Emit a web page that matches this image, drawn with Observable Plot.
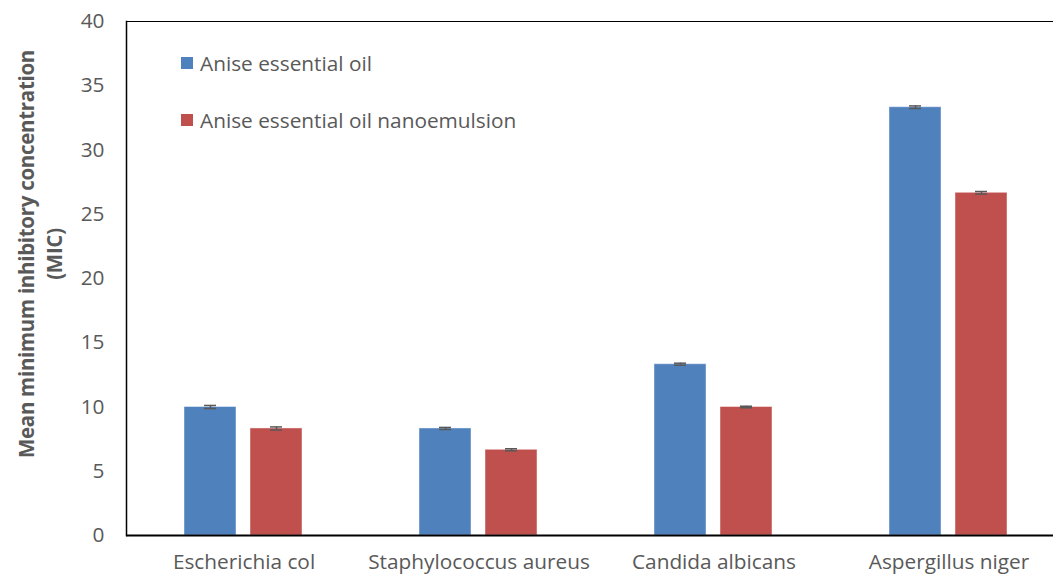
<!DOCTYPE html>
<html>
<head>
<meta charset="utf-8">
<script src="https://cdn.jsdelivr.net/npm/d3@7"></script>
<script src="https://cdn.jsdelivr.net/npm/@observablehq/plot@0.6"></script>
<style>
  html, body { margin: 0; padding: 0; background: #fff; }
  #wrap { position: relative; width: 1053px; height: 575px; overflow: hidden; font-family: "Open Sans", Lato, sans-serif; color: #595959; }
  #ylabel { position: absolute; left: 40px; top: 254px; transform: translate(-50%, -50%) rotate(-90deg); text-align: center; font-weight: bold; font-size: 20.5px; line-height: 28px; white-space: nowrap; color: #595959; letter-spacing: -0.3px; }
  #legend { position: absolute; left: 181px; top: 49px; font-size: 20.8px; }
  .item { display: flex; align-items: center; height: 28px; margin-bottom: 29px; }
  .sw { width: 12px; height: 12px; margin-right: 7px; }
</style>
</head>
<body>
<div id="wrap">
  <div id="chart"></div>
  <div id="ylabel"></div>
  <div id="legend"></div>
</div>
<script>
const categories = ["Escherichia col", "Staphylococcus aureus", "Candida albicans", "Aspergillus niger"];
const series = ["Anise essential oil", "Anise essential oil nanoemulsion"];
const oilValues = [10.0, 8.33, 13.33, 33.33];
const nanoValues = [8.33, 6.67, 10.0, 26.67];
const oilErr = [0.12, 0.08, 0.08, 0.1];
const nanoErr = [0.12, 0.08, 0.06, 0.1];
const yTicks = [0, 5, 10, 15, 20, 25, 30, 35, 40];
const colors = ["#4F81BD", "#C0504D"];
const yLabelLines = ["Mean minimum inhibitory concentration", "(MIC)"];

const data = [];
categories.forEach((c, i) => {
  data.push({cat: c, s: series[0], v: oilValues[i], e: oilErr[i]});
  data.push({cat: c, s: series[1], v: nanoValues[i], e: nanoErr[i]});
});

const chart = Plot.plot({
  width: 1053,
  height: 575,
  marginLeft: 125,
  marginRight: -13,
  marginTop: 21,
  marginBottom: 40,
  style: {fontFamily: "'Open Sans', Lato, sans-serif", fontSize: "20.8px", color: "#595959", background: "#fff"},
  fx: {domain: categories, padding: 0, label: null, tickSize: 0, tickPadding: 19},
  x: {domain: series, paddingInner: 0.21, paddingOuter: 0.874, axis: null},
  y: {domain: [0, 40], ticks: yTicks, tickSize: 0, tickPadding: 22, label: null},
  color: {domain: series, range: colors},
  marks: [
    Plot.barY(data, {fx: "cat", x: "s", y: "v", fill: "s", stroke: "#fff", strokeOpacity: 0.45, strokeWidth: 1}),
    Plot.ruleX(data, {fx: "cat", x: "s", y1: d => d.v - d.e, y2: d => d.v + d.e, stroke: "#595959", strokeWidth: 1.5}),
    Plot.tickY(data, {fx: "cat", x: "s", y: d => d.v + d.e, stroke: "#595959", strokeWidth: 1.5, insetLeft: 20, insetRight: 20}),
    Plot.tickY(data, {fx: "cat", x: "s", y: d => d.v - d.e, stroke: "#595959", strokeWidth: 1.5, insetLeft: 20, insetRight: 20}),
    Plot.ruleY([40], {stroke: "#000", strokeWidth: 1.2}),
    Plot.ruleY([0], {stroke: "#000", strokeWidth: 2}),
    Plot.frame({anchor: "left", facetAnchor: "left", stroke: "#000", strokeWidth: 1.5})
  ]
});
document.getElementById("chart").appendChild(chart);

document.getElementById("ylabel").innerHTML = yLabelLines.join("<br>");
const legend = document.getElementById("legend");
series.forEach((s, i) => {
  const item = document.createElement("div");
  item.className = "item";
  item.innerHTML = `<div class="sw" style="background:${colors[i]}"></div><span>${s}</span>`;
  legend.appendChild(item);
});
</script>
</body>
</html>
